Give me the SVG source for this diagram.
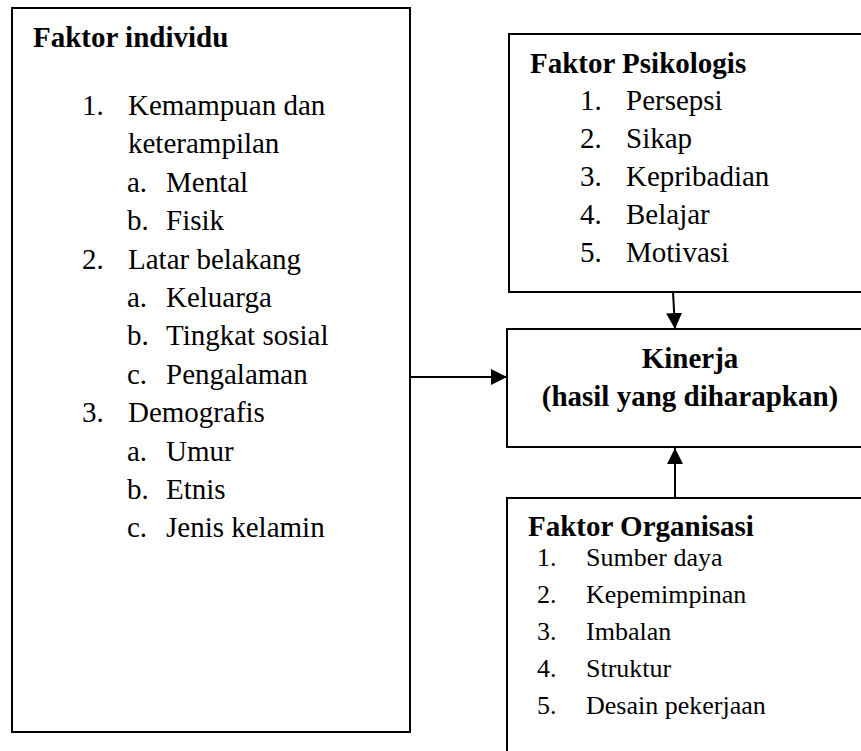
<svg xmlns="http://www.w3.org/2000/svg" width="861" height="751" viewBox="0 0 861 751">
  <style>
    .box { fill: #ffffff; stroke: #000000; stroke-width: 2; }
    .t { font-family: "Liberation Serif", "Times New Roman", serif; fill: #000000; }
    .h { font-size: 29px; font-weight: bold; }
    .r { font-size: 29px; }
    .s { font-size: 26px; }
    .link { stroke: #000000; stroke-width: 2; fill: none; }
  </style>
  <defs>
    <marker id="arrow" viewBox="0 0 16 16" refX="16" refY="8" markerWidth="16" markerHeight="16" markerUnits="userSpaceOnUse" orient="auto">
      <path d="M0,0 L16,8 L0,16 Z" fill="#000000"/>
    </marker>
  </defs>

  <rect width="861" height="751" fill="#ffffff"/>

  <!-- Individual factors -->
  <g id="faktor-individu">
    <rect class="box" x="12" y="8" width="398" height="724"/>
    <text class="t h" x="33" y="47">Faktor individu</text>
    <g class="t r">
      <text x="82" y="115">1.</text><text x="128" y="115">Kemampuan dan</text>
      <text x="128" y="153.4">keterampilan</text>
      <text x="127" y="191.8">a.</text><text x="166" y="191.8">Mental</text>
      <text x="127" y="230.2">b.</text><text x="166" y="230.2">Fisik</text>
      <text x="82" y="268.6">2.</text><text x="128" y="268.6">Latar belakang</text>
      <text x="127" y="307">a.</text><text x="166" y="307">Keluarga</text>
      <text x="127" y="345.4">b.</text><text x="166" y="345.4">Tingkat sosial</text>
      <text x="127" y="383.8">c.</text><text x="166" y="383.8">Pengalaman</text>
      <text x="82" y="422.2">3.</text><text x="128" y="422.2">Demografis</text>
      <text x="127" y="460.6">a.</text><text x="166" y="460.6">Umur</text>
      <text x="127" y="499">b.</text><text x="166" y="499">Etnis</text>
      <text x="127" y="537.4">c.</text><text x="166" y="537.4">Jenis kelamin</text>
    </g>
  </g>

  <!-- Psychological factors -->
  <g id="faktor-psikologis">
    <rect class="box" x="509" y="34" width="370" height="258"/>
    <text class="t h" x="530" y="73">Faktor Psikologis</text>
    <g class="t r">
      <text x="580" y="110">1.</text><text x="626" y="110">Persepsi</text>
      <text x="580" y="148">2.</text><text x="626" y="148">Sikap</text>
      <text x="580" y="186">3.</text><text x="626" y="186">Kepribadian</text>
      <text x="580" y="224">4.</text><text x="626" y="224">Belajar</text>
      <text x="580" y="262">5.</text><text x="626" y="262">Motivasi</text>
    </g>
  </g>

  <!-- Performance -->
  <g id="kinerja">
    <rect class="box" x="507" y="329" width="372" height="118"/>
    <text class="t h" x="690" y="368" text-anchor="middle">Kinerja</text>
    <text class="t h" x="690" y="406" text-anchor="middle">(hasil yang diharapkan)</text>
  </g>

  <!-- Organisational factors -->
  <g id="faktor-organisasi">
    <rect class="box" x="507" y="498" width="372" height="270"/>
    <text class="t h" x="528" y="536">Faktor Organisasi</text>
    <g class="t s">
      <text x="537" y="566">1.</text><text x="586" y="566">Sumber daya</text>
      <text x="537" y="603">2.</text><text x="586" y="603">Kepemimpinan</text>
      <text x="537" y="640">3.</text><text x="586" y="640">Imbalan</text>
      <text x="537" y="677">4.</text><text x="586" y="677">Struktur</text>
      <text x="537" y="714">5.</text><text x="586" y="714">Desain pekerjaan</text>
    </g>
  </g>

  <!-- Connectors -->
  <g id="connectors">
    <line class="link" x1="410" y1="377" x2="507" y2="377" marker-end="url(#arrow)"/>
    <line class="link" x1="673" y1="292" x2="675" y2="329" marker-end="url(#arrow)"/>
    <line class="link" x1="675" y1="498" x2="675" y2="448" marker-end="url(#arrow)"/>
  </g>
</svg>
